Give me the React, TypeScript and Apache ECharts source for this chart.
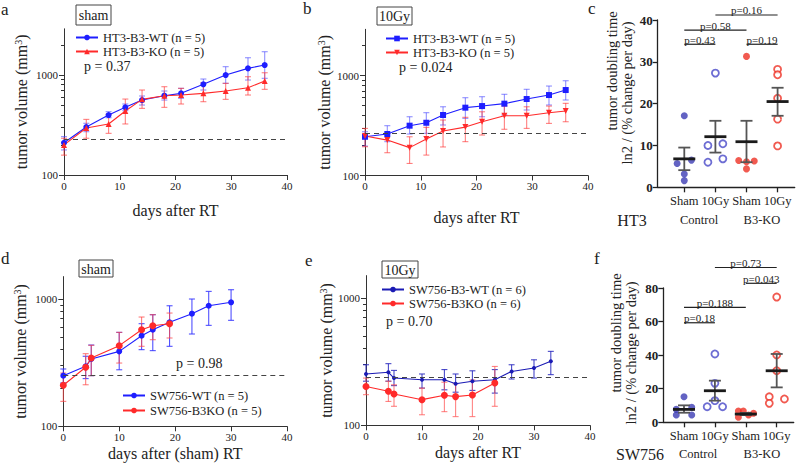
import React, { useEffect, useRef } from 'react';
import * as echarts from 'echarts';

const SERIF = 'Liberation Serif, Times New Roman, serif';

// ---------- panel a (HT3 sham) ----------
const DAYS_HT3 = [0, 4, 8, 11, 14, 18, 21, 25, 29, 33, 36];
const A_WT = [210, 302, 398, 475, 562, 621, 656, 807, 1000, 1166, 1259];
const A_WT_HI = [242, 329, 430, 513, 617, 692, 736, 912, 1212, 1489, 1711];
const A_WT_LO = [178, 271, 374, 440, 501, 562, 585, 708, 826, 891, 927];
const A_KO = [200, 295, 324, 437, 571, 621, 631, 656, 692, 747, 871];
const A_KO_HI = [233, 360, 404, 575, 708, 764, 736, 838, 826, 962, 1054];
const A_KO_LO = [158, 233, 261, 324, 464, 475, 513, 541, 571, 631, 719];
const A_BASE = 227;

// ---------- panel b (HT3 10Gy) ----------
const B_WT = [244, 260, 315, 337, 403, 477, 495, 523, 582, 638, 716];
const B_WT_HI = [274, 315, 387, 425, 487, 600, 614, 649, 728, 785, 887];
const B_WT_LO = [197, 218, 260, 264, 320, 373, 387, 403, 452, 507, 569];
const B_KO = [248, 226, 190, 232, 279, 305, 345, 396, 396, 425, 442];
const B_KO_HI = [296, 264, 244, 303, 359, 382, 434, 495, 487, 495, 527];
const B_KO_LO = [194, 169, 132, 160, 193, 218, 254, 290, 296, 332, 345];
const B_BASE = 264;

// ---------- panel d (SW756 sham) ----------
const DAYS_D_WT = [0, 4, 5, 10, 14, 16, 19, 23, 26, 30];
const D_WT = [250, 296, 338, 388, 515, 574, 656, 767, 885, 942];
const D_WT_HI = [282, 355, 435, 547, 640, 753, 885, 1000, 1148, 1183];
const D_WT_LO = [219, 237, 250, 278, 400, 393, 425, 531, 621, 680];
const DAYS_D_KO = [0, 4, 5, 10, 14, 16, 19];
const D_KO = [210, 291, 344, 430, 574, 617, 640];
const D_KO_HI = [262, 372, 433, 547, 722, 753, 776];
const D_KO_LO = [157, 212, 250, 314, 425, 479, 494];
const D_BASE = 251;

// ---------- panel e (SW756 10Gy) ----------
const DAYS_E_WT = [0, 4, 5, 10, 14, 16, 19, 23, 26, 30, 33];
const E_WT = [253, 261, 235, 228, 228, 212, 222, 228, 265, 282, 318];
const E_WT_HI = [299, 305, 270, 253, 274, 253, 268, 274, 299, 327, 381];
const E_WT_LO = [222, 222, 205, 196, 190, 182, 188, 179, 231, 235, 250];
const DAYS_E_KO = [0, 4, 5, 10, 14, 16, 19, 23];
const E_KO = [202, 185, 176, 159, 172, 168, 173, 215];
const E_KO_HI = [235, 222, 208, 196, 218, 212, 227, 290];
const E_KO_LO = [174, 154, 141, 121, 128, 117, 117, 141];
const E_BASE = 238;

// ---------- panels c / f (doubling time) ----------
const GROUP_LABELS = ['Sham', '10Gy', 'Sham', '10Gy'];
const LOG_MINOR = [200, 300, 400, 500, 600, 700, 800, 900, 2000];

const C_SHAM_CTRL = [17.1, 5.7, 6.5, 3.2, 1.6];
const C_SHAM_CTRL_J = [0, -0.23, 0.23, 0, 0];
const C_10GY_CTRL = [27.3, 10.0, 10.4, 6.0, 6.8];
const C_10GY_CTRL_J = [0, -0.24, 0.24, -0.24, 0.24];
const C_SHAM_KO = [31.3, 6.4, 6.1, 6.3, 4.4];
const C_SHAM_KO_J = [0, -0.25, 0, 0.25, 0];
const C_10GY_KO = [28.2, 26.9, 21.3, 16.3, 9.9];
const C_10GY_KO_J = [0, 0, 0, 0, 0];
// [group, mean, low, high]
const C_MEAN = [[1, 6.8, 4.1, 9.5], [2, 12.1, 8.3, 15.9], [3, 10.9, 6.0, 15.9], [4, 20.5, 17.1, 23.8]];
const C_SIG_LABEL = ['p=0.16', 'p=0.58', 'p=0.43', 'p=0.19'];
const C_SIG_FROM = [2, 1, 1, 3];
const C_SIG_TO = [4, 3, 2, 4];
const C_SIG_Y = [41.2, 37.6, 34.2, 34.2];

const F_SHAM_CTRL = [15.2, 7.7, 8.9, 4.4, 4.4];
const F_SHAM_CTRL_J = [0, -0.25, 0.25, -0.25, 0.25];
const F_10GY_CTRL = [40.7, 23.2, 12.9, 9.3, 9.3];
const F_10GY_CTRL_J = [0, 0, 0, -0.25, 0.25];
const F_SHAM_KO = [6.7, 6.7, 3.0, 4.4, 5.4];
const F_SHAM_KO_J = [-0.24, -0.08, -0.24, 0.09, 0.25];
const F_10GY_KO = [74.6, 40.1, 30.7, 15.2, 11.3, 13.9];
const F_10GY_KO_J = [0, 0, 0, -0.24, -0.24, 0.25];
const F_MEAN = [[1, 7.7, 5.7, 10.1], [2, 18.8, 12.9, 24.8], [3, 4.9, 4.3, 5.6], [4, 30.7, 20.8, 40.7]];
const F_SIG_LABEL = ['p=0.73', 'p=0.043', 'p=0.188', 'p=0.18'];
const F_SIG_FROM = [2, 3, 1, 1];
const F_SIG_TO = [4, 4, 3, 2];
const F_SIG_Y = [92.2, 82.8, 68.5, 59.3];

const BLUE_DARK = '#3c3cb4';
const BLUE_OPEN = '#4848c8';
const RED = '#ee3124';

function errSeries(xi: number, days: number[], lo: number[], hi: number[], color: string, cap = 3) {
  return {
    type: 'custom',
    xAxisIndex: xi,
    yAxisIndex: xi,
    silent: true,
    z: 2,
    encode: { x: 0, y: [1, 2] },
    data: days.map((d, i) => [d, lo[i], hi[i]]),
    renderItem: (params: any, api: any) => {
      const x = api.value(0);
      const p1 = api.coord([x, api.value(2)]);
      const p2 = api.coord([x, api.value(1)]);
      const st = { stroke: color, lineWidth: 1.1 };
      return {
        type: 'group',
        children: [
          { type: 'line', shape: { x1: p1[0], y1: p1[1], x2: p2[0], y2: p2[1] }, style: st },
          { type: 'line', shape: { x1: p1[0] - cap, y1: p1[1], x2: p1[0] + cap, y2: p1[1] }, style: st },
          { type: 'line', shape: { x1: p2[0] - cap, y1: p2[1], x2: p2[0] + cap, y2: p2[1] }, style: st },
        ],
      };
    },
  };
}

function lineSeries(xi: number, name: string, days: number[], vals: number[], color: string, symbol: string, size: number, extra: any = {}) {
  return {
    type: 'line',
    name,
    xAxisIndex: xi,
    yAxisIndex: xi,
    data: days.map((d, i) => [d, vals[i]]),
    symbol,
    symbolSize: size,
    lineStyle: { color, width: 1.1 },
    itemStyle: { color },
    z: 3,
    ...extra,
  };
}

function baseLine(v: number) {
  return {
    silent: true,
    symbol: 'none',
    label: { show: false },
    lineStyle: { type: [5, 4], color: '#444', width: 1 },
    data: [{ yAxis: v }],
  };
}

function dots(xi: number, pos: number, vals: number[], jit: number[], color: string, hollow: boolean) {
  return {
    type: 'scatter',
    xAxisIndex: xi,
    yAxisIndex: xi,
    data: vals.map((v, i) => [pos + jit[i], v]),
    symbol: 'circle',
    symbolSize: 7,
    itemStyle: hollow ? { color: '#fff', borderColor: color, borderWidth: 1.8 } : { color },
    z: 3,
  };
}

function meanSeries(xi: number, rows: number[][]) {
  return {
    type: 'custom',
    xAxisIndex: xi,
    yAxisIndex: xi,
    silent: true,
    z: 4,
    encode: { x: 0, y: [1, 2, 3] },
    data: rows,
    renderItem: (params: any, api: any) => {
      const x = api.value(0);
      const m = api.coord([x, api.value(1)]);
      const lo = api.coord([x, api.value(2)]);
      const hi = api.coord([x, api.value(3)]);
      const es = { stroke: '#555', lineWidth: 1.8 };
      return {
        type: 'group',
        children: [
          { type: 'line', shape: { x1: hi[0], y1: hi[1], x2: lo[0], y2: lo[1] }, style: es },
          { type: 'line', shape: { x1: hi[0] - 6, y1: hi[1], x2: hi[0] + 6, y2: hi[1] }, style: es },
          { type: 'line', shape: { x1: lo[0] - 6, y1: lo[1], x2: lo[0] + 6, y2: lo[1] }, style: es },
          { type: 'line', shape: { x1: m[0] - 11, y1: m[1], x2: m[0] + 11, y2: m[1] }, style: { stroke: '#1a1a1a', lineWidth: 2.8 } },
        ],
      };
    },
  };
}

function sigSeries(xi: number, from: number[], to: number[], ys: number[], labels: string[]) {
  return {
    type: 'custom',
    xAxisIndex: xi,
    yAxisIndex: xi,
    silent: true,
    clip: false,
    z: 5,
    encode: { x: [0, 1], y: 2 },
    data: from.map((f, i) => [f, to[i], ys[i], i]),
    renderItem: (params: any, api: any) => {
      const a = api.coord([api.value(0), api.value(2)]);
      const b = api.coord([api.value(1), api.value(2)]);
      const idx = api.value(3);
      return {
        type: 'group',
        children: [
          { type: 'line', shape: { x1: a[0], y1: a[1], x2: b[0], y2: b[1] }, style: { stroke: '#222', lineWidth: 1.2 } },
          {
            type: 'text',
            x: (a[0] + b[0]) / 2,
            y: a[1] + 1,
            style: { text: labels[idx], font: `11px ${SERIF}`, fill: '#222', textAlign: 'center', textVerticalAlign: 'bottom' },
          },
        ],
      };
    },
  };
}

const axisLineStyle = { color: '#333', width: 1 };

function timeXAxis(gi: number, name: string, gap: number) {
  return {
    type: 'value',
    gridIndex: gi,
    min: 0,
    max: 40,
    interval: 10,
    axisLine: { show: true, lineStyle: axisLineStyle },
    axisTick: { show: true, length: 5, lineStyle: axisLineStyle },
    axisLabel: { fontFamily: SERIF, fontSize: 11, color: '#222', margin: 5 },
    splitLine: { show: false },
    name,
    nameLocation: 'middle',
    nameGap: gap,
    nameTextStyle: { fontFamily: SERIF, fontSize: 16, color: '#222' },
  };
}

const volRich = {
  t: { fontFamily: SERIF, fontSize: 16, color: '#222' },
  s: { fontFamily: SERIF, fontSize: 10, color: '#222', verticalAlign: 'top', padding: [0, 0, 6, 0] },
};

function decadeLabel(v: number) {
  const l = Math.log10(v);
  return Math.abs(l - Math.round(l)) < 1e-6 ? String(Math.round(v)) : '';
}

function logYAxis(gi: number, max: number, gap: number) {
  return {
    type: 'log',
    gridIndex: gi,
    position: 'left',
    min: 100,
    max,
    logBase: 10,
    axisLine: { show: true, lineStyle: axisLineStyle },
    axisTick: { show: true, length: 5, lineStyle: axisLineStyle },
    axisLabel: { fontFamily: SERIF, fontSize: 11, color: '#222', margin: 6, showMaxLabel: false, formatter: decadeLabel },
    splitLine: { show: false },
    name: '{t|tumor volume (mm}{s|3}{t|)}',
    nameLocation: 'middle',
    nameGap: gap,
    nameTextStyle: { fontFamily: SERIF, fontSize: 16, color: '#222', rich: volRich },
  };
}

function minorYAxis(gi: number, max: number) {
  return {
    type: 'log',
    gridIndex: gi,
    position: 'left',
    offset: 0,
    min: 100,
    max,
    logBase: 10,
    axisLine: { show: false },
    axisLabel: { show: false },
    axisTick: { show: true, length: 3, lineStyle: axisLineStyle, customValues: LOG_MINOR.filter((v) => v < max) },
    splitLine: { show: false },
  };
}

function groupXAxis(gi: number, min: number) {
  return {
    type: 'value',
    gridIndex: gi,
    min,
    max: 4.55,
    axisLine: { show: true, lineStyle: { color: '#222', width: 1.3 } },
    axisTick: { show: true, length: 5, lineStyle: { color: '#222', width: 1.3 }, customValues: [1, 2, 3, 4] },
    axisLabel: {
      fontFamily: SERIF,
      fontSize: 12.5,
      color: '#222',
      margin: 7,
      customValues: [1, 2, 3, 4],
      formatter: (v: number) => GROUP_LABELS[Math.round(v) - 1] || '',
    },
    splitLine: { show: false },
  };
}

function groupYAxis(gi: number, max: number, interval: number) {
  return {
    type: 'value',
    gridIndex: gi,
    min: 0,
    max,
    interval,
    axisLine: { show: true, lineStyle: { color: '#222', width: 1.3 } },
    axisTick: { show: true, length: 5, lineStyle: { color: '#222', width: 1.3 } },
    axisLabel: { fontFamily: SERIF, fontSize: 13, fontWeight: 'bold', color: '#222', margin: 5 },
    splitLine: { show: false },
  };
}

function legend(left: number, top: number, names: string[], gap = 0) {
  return {
    left,
    top,
    orient: 'vertical',
    itemGap: gap,
    itemWidth: 22,
    itemHeight: 7,
    selectedMode: false,
    data: names,
    formatter: (n: string) => n.slice(2),
    textStyle: { fontFamily: SERIF, fontSize: 12.5, color: '#222', lineHeight: 13 },
    padding: 0,
  };
}

function txt(x: number, y: number, text: string, size: number, align = 'left', extra: any = {}) {
  return {
    type: 'text',
    x,
    y,
    silent: true,
    style: { text, font: `${size}px ${SERIF}`, fill: '#222', textAlign: align, textVerticalAlign: 'middle' },
    ...extra,
  };
}

function boxLabel(x: number, y: number, w: number, h: number, text: string) {
  return {
    type: 'group',
    silent: true,
    children: [
      { type: 'rect', shape: { x, y, width: w, height: h }, style: { fill: '#fff', stroke: '#444', lineWidth: 1 } },
      txt(x + w / 2, y + h / 2 + 0.5, text, 14, 'center'),
    ],
  };
}

function vtxt(x: number, y: number, text: string, size: number) {
  return {
    type: 'text',
    x,
    y,
    rotation: Math.PI / 2,
    silent: true,
    style: { text, font: `${size}px ${SERIF}`, fill: '#222', textAlign: 'center', textVerticalAlign: 'middle' },
  };
}

const App: React.FC = () => {
  const ref = useRef<HTMLDivElement>(null);
  useEffect(() => {
    if (!ref.current) return;
    const chart = echarts.init(ref.current, undefined, { renderer: 'svg' });
    const nA1 = 'a:HT3-B3-WT (n = 5)', nA2 = 'a:HT3-B3-KO (n = 5)';
    const nB1 = 'b:HT3-B3-WT (n = 5)', nB2 = 'b:HT3-B3-KO (n = 5)';
    const nD1 = 'd:SW756-WT (n = 5)', nD2 = 'd:SW756-B3KO (n = 5)';
    const nE1 = 'e:SW756-B3-WT (n = 6)', nE2 = 'e:SW756-B3KO (n = 6)';

    const option: any = {
      animation: false,
      backgroundColor: '#fff',
      grid: [
        { left: 64, top: 28.8, width: 223, height: 146.2 },
        { left: 365, top: 29.3, width: 223, height: 146.2 },
        { left: 657.7, top: 20, width: 137, height: 167.3 },
        { left: 63.3, top: 276.6, width: 223.7, height: 149.7 },
        { left: 366, top: 275.6, width: 224, height: 149.7 },
        { left: 663.3, top: 288, width: 130.4, height: 134.3 },
      ],
      xAxis: [
        timeXAxis(0, 'days after RT', 27),
        timeXAxis(1, 'days after RT', 34),
        groupXAxis(2, 0.145),
        timeXAxis(3, 'days after (sham) RT', 19),
        timeXAxis(4, 'days after RT', 19),
        groupXAxis(5, 0.33),
      ],
      yAxis: [
        logYAxis(0, 2900, 35),
        logYAxis(1, 2900, 33),
        groupYAxis(2, 40, 10),
        logYAxis(3, 1500, 35),
        logYAxis(4, 1500, 31),
        groupYAxis(5, 80, 20),
        minorYAxis(0, 2900),
        minorYAxis(1, 2900),
        minorYAxis(3, 1500),
        minorYAxis(4, 1500),
      ],
      legend: [
        legend(75, 31, [nA1, nA2], 1),
        legend(385, 32, [nB1, nB2], 1),
        legend(122, 389, [nD1, nD2], 2),
        legend(381, 283, [nE1, nE2], 1),
      ],
      series: [
        // a
        errSeries(0, DAYS_HT3, A_WT_LO, A_WT_HI, 'rgba(70,70,255,0.6)'),
        errSeries(0, DAYS_HT3, A_KO_LO, A_KO_HI, 'rgba(255,60,60,0.65)'),
        lineSeries(0, nA1, DAYS_HT3, A_WT, '#1e1eff', 'circle', 6, { markLine: baseLine(A_BASE) }),
        lineSeries(0, nA2, DAYS_HT3, A_KO, '#ff2a2a', 'triangle', 6),
        // b
        errSeries(1, DAYS_HT3, B_WT_LO, B_WT_HI, 'rgba(70,70,255,0.6)'),
        errSeries(1, DAYS_HT3, B_KO_LO, B_KO_HI, 'rgba(255,60,60,0.65)'),
        lineSeries(1, nB1, DAYS_HT3, B_WT, '#1e1eff', 'rect', 6, { markLine: baseLine(B_BASE) }),
        lineSeries(1, nB2, DAYS_HT3, B_KO, '#ff2a2a', 'triangle', 6, { symbolRotate: 180 }),
        // d
        errSeries(3, DAYS_D_WT, D_WT_LO, D_WT_HI, 'rgba(50,50,255,0.85)'),
        errSeries(3, DAYS_D_KO, D_KO_LO, D_KO_HI, 'rgba(255,70,70,0.7)'),
        lineSeries(3, nD1, DAYS_D_WT, D_WT, '#1e1eff', 'circle', 6, { markLine: baseLine(D_BASE) }),
        lineSeries(3, nD2, DAYS_D_KO, D_KO, '#ff2a2a', 'circle', 7),
        // e
        errSeries(4, DAYS_E_WT, E_WT_LO, E_WT_HI, 'rgba(40,40,190,0.85)'),
        errSeries(4, DAYS_E_KO, E_KO_LO, E_KO_HI, 'rgba(255,80,80,0.7)'),
        lineSeries(4, nE1, DAYS_E_WT, E_WT, '#1a1ab4', 'circle', 4, { markLine: baseLine(E_BASE) }),
        lineSeries(4, nE2, DAYS_E_KO, E_KO, '#ff2a2a', 'circle', 7),
        // c
        dots(2, 1, C_SHAM_CTRL, C_SHAM_CTRL_J, BLUE_DARK, false),
        dots(2, 2, C_10GY_CTRL, C_10GY_CTRL_J, BLUE_OPEN, true),
        dots(2, 3, C_SHAM_KO, C_SHAM_KO_J, RED, false),
        dots(2, 4, C_10GY_KO, C_10GY_KO_J, RED, true),
        meanSeries(2, C_MEAN),
        sigSeries(2, C_SIG_FROM, C_SIG_TO, C_SIG_Y, C_SIG_LABEL),
        // f
        dots(5, 1, F_SHAM_CTRL, F_SHAM_CTRL_J, BLUE_DARK, false),
        dots(5, 2, F_10GY_CTRL, F_10GY_CTRL_J, BLUE_OPEN, true),
        dots(5, 3, F_SHAM_KO, F_SHAM_KO_J, RED, false),
        dots(5, 4, F_10GY_KO, F_10GY_KO_J, RED, true),
        meanSeries(5, F_MEAN),
        sigSeries(5, F_SIG_FROM, F_SIG_TO, F_SIG_Y, F_SIG_LABEL),
      ],
      graphic: [
        // panel letters
        txt(1, 9, 'a', 17),
        txt(303, 8, 'b', 17),
        txt(588, 8, 'c', 17),
        txt(1, 258, 'd', 17),
        txt(305, 260, 'e', 17),
        txt(594, 258, 'f', 17),
        // condition boxes
        boxLabel(76, 5, 35, 20, 'sham'),
        boxLabel(377, 7, 35, 18, '10Gy'),
        boxLabel(79, 260, 34, 17, 'sham'),
        boxLabel(382, 261, 36, 17, '10Gy'),
        // p values
        txt(84, 66, 'p = 0.37', 14),
        txt(399, 67.5, 'p = 0.024', 14),
        txt(176, 363, 'p = 0.98', 14),
        txt(386, 321, 'p = 0.70', 14),
        // doubling-time axis titles
        vtxt(612, 71, 'tumor doubling time', 14.5),
        vtxt(627, 93, 'ln2 / (% change per day)', 14.5),
        vtxt(616, 333, 'tumor doubling time', 14.5),
        vtxt(631, 353, 'ln2 / (% change per day)', 14.5),
        // group labels
        txt(632, 220, 'HT3', 16, 'center'),
        txt(699, 220, 'Control', 12.5, 'center'),
        txt(762, 220, 'B3-KO', 12.5, 'center'),
        txt(640, 454, 'SW756', 16, 'center'),
        txt(698, 454, 'Control', 12.5, 'center'),
        txt(762, 454, 'B3-KO', 12.5, 'center'),
      ],
    };
    chart.setOption(option);
    return () => chart.dispose();
  }, []);
  return <div ref={ref} style={{ position: 'fixed', left: 0, top: 0, width: 800, height: 466, background: '#fff' }} />;
};

export default App;
